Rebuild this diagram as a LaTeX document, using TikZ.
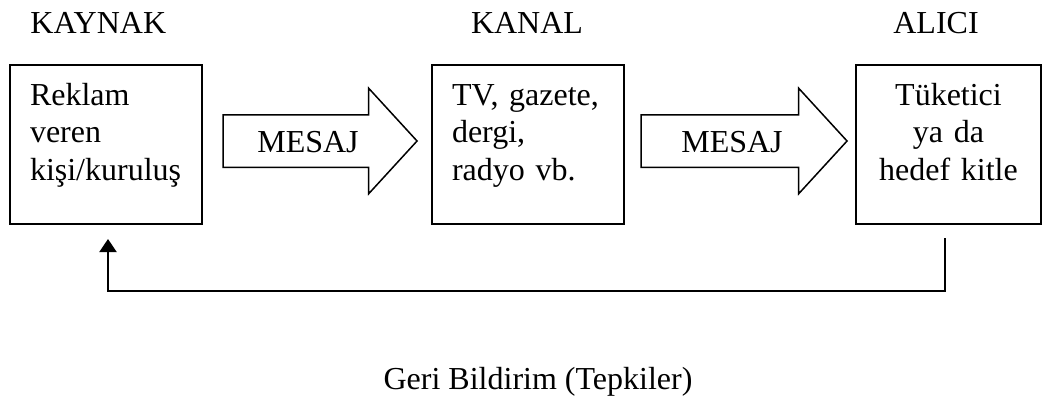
\documentclass[tikz,border=0pt]{standalone}
\usepackage{fontspec}
\setmainfont{Liberation Serif}
\usetikzlibrary{arrows.meta,shapes.arrows,positioning}

\begin{document}
\begin{tikzpicture}[x=0.5pt,y=-0.5pt]
    \fontsize{16pt}{18.75pt}\selectfont  % yazı boyutu
    \tikzstyle{kutu}=[rectangle,draw,line width=1pt,inner xsep=10pt,inner ysep=0pt,text height=20pt,text depth=59.5pt]  % kutular
    \tikzstyle{mesaj}=[single arrow,draw,line width=0.75pt,single arrow head extend=13.25pt,single arrow tip angle=95,inner ysep=7.25pt,text height=11pt,text depth=0pt]  % blok oklar
    \tikzstyle{baslik}=[inner sep=0pt,anchor=base]  % başlıklar
    \useasboundingbox (0,0) rectangle (1044,397);

    % başlıklar
    \node[baslik,anchor=base west](kaynakbaslik) at (30,33){KAYNAK};
    \node[baslik](kanalbaslik) at (527,33){KANAL};
    \node[baslik](alicibaslik) at (936,33){ALICI};
    % kutular
    \node[kutu,text width=76pt,align=left](kaynak) at (106,144.5){Reklam\\veren\\kişi/kuruluş};
    \node[kutu,text width=76pt,align=left](kanal) at (528,144.5){TV, gazete,\\dergi,\\radyo vb.};
    \node[kutu,text width=72.5pt,align=center](alici) at (948.5,144.5){Tüketici\\ya da\\hedef kitle};
    % mesaj okları
    \node[mesaj,minimum height=97pt](mesaj1) at (308,141){MESAJ};
    \node[mesaj,minimum height=103pt](mesaj2) at (732,141){MESAJ};
    % geri bildirim
    \coordinate (donus) at (108,291);
    \draw[-{Triangle[length=6.5pt,width=8.5pt]},line width=1pt]([xshift=-2pt,yshift=-6.5pt]alici.south) |- (donus) -- ([yshift=-7pt]kaynak.south -| donus);
    \node[baslik](geri) at (538,389){Geri Bildirim (Tepkiler)};
\end{tikzpicture}
\end{document}
